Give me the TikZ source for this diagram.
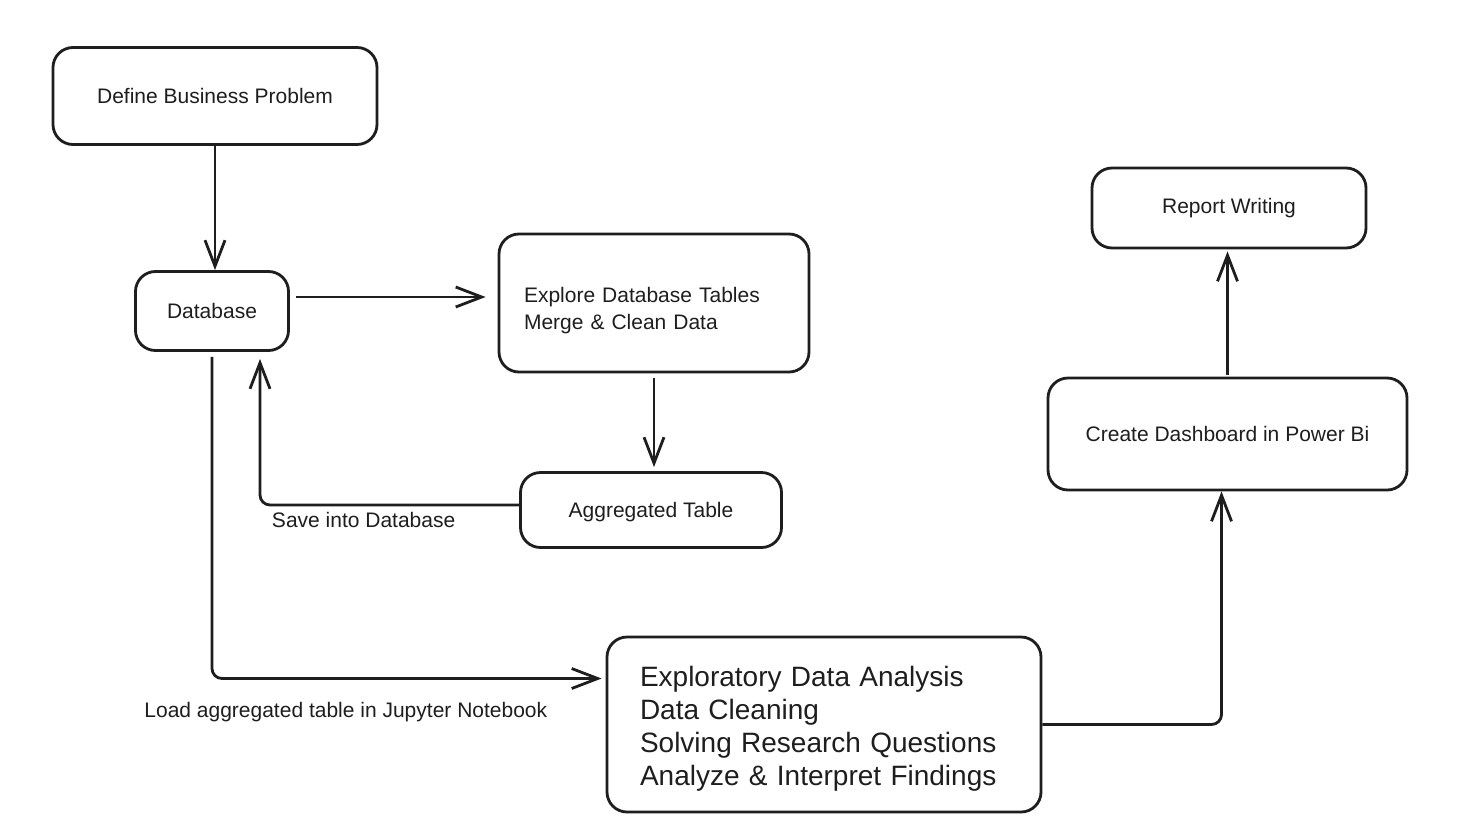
\documentclass[tikz,border=0pt]{standalone}
\usepackage{fontspec}
\setmainfont{Liberation Sans}
\usetikzlibrary{arrows.meta}
\definecolor{ink}{HTML}{1E1E1E}
\begin{document}
\begin{tikzpicture}[x=0.5pt, y=-0.5pt, line width=1.4pt, draw=ink,
    every node/.style={font=\fontsize{10.5}{13.5}\selectfont, text=ink},
    stage/.style={draw=ink, rounded corners=10pt, inner sep=0pt},
    flow/.style={draw=ink, -{Straight Barb[length=13pt,width=10pt]}, rounded corners=5pt}]
  \fill[white] (0,0) rectangle (1459,830);
  \useasboundingbox (0,0) rectangle (1459,830);
  % stages
  \node[stage, minimum width=162pt, minimum height=48.5pt] (define) at (215,96) {Define Business Problem};
  \node[stage, minimum width=76.5pt, minimum height=39.5pt] (db) at (212,311) {Database};
  \node[stage, minimum height=69pt, inner xsep=12.5pt, text width=130pt, align=left] (explore) at (654,303)
    {\rule{0pt}{15pt}Explore Database Tables\\Merge \& Clean Data};
  \node[stage, minimum width=130.5pt, minimum height=37.5pt] (agg) at (651,510) {\rule{0pt}{10pt}Aggregated Table};
  \node[stage, minimum height=87.5pt, inner xsep=16.5pt, text width=184pt, align=left,
    font=\fontsize{14}{16.5}\selectfont] (eda) at (824,724.5)
    {\rule{0pt}{14pt}Exploratory Data Analysis\\Data Cleaning\\Solving Research Questions\\Analyze \& Interpret Findings};
  \node[stage, minimum width=179.5pt, minimum height=56pt] (dash) at (1227.5,434) {Create Dashboard in Power Bi};
  \node[stage, minimum width=137pt, minimum height=40pt] (report) at (1229,208) {Report Writing};
  % connectors
  \coordinate (dbout) at ([yshift=7pt]db.east);
  \coordinate (dbin) at ([xshift=24pt]db.south);
  \coordinate (aggout) at ([yshift=2.5pt]agg.west);
  \coordinate (edain) at ([yshift=23pt]eda.west);
  \draw[flow] (define.south) -- (define.south |- db.north);
  \draw[flow, shorten <=3pt, shorten >=6pt] (dbout) -- (dbout -| explore.west);
  \draw[flow, shorten <=2.5pt, shorten >=2pt] (explore.south) -- (explore.south |- agg.north);
  \draw[flow, shorten >=3.5pt] (aggout) -| (dbin) node[pos=0.3, below=-0.5pt] {Save into Database};
  \draw[flow, shorten <=2.5pt, shorten >=2pt] (db.south) |- (edain) node[pos=0.67, below=8pt] {Load aggregated table in Jupyter Notebook};
  \draw[flow] (eda.east) -| ([xshift=-3pt]dash.south);
  \draw[flow, shorten <=1pt, shorten >=1pt] (dash.north) -- (dash.north |- report.south);
\end{tikzpicture}
\end{document}
